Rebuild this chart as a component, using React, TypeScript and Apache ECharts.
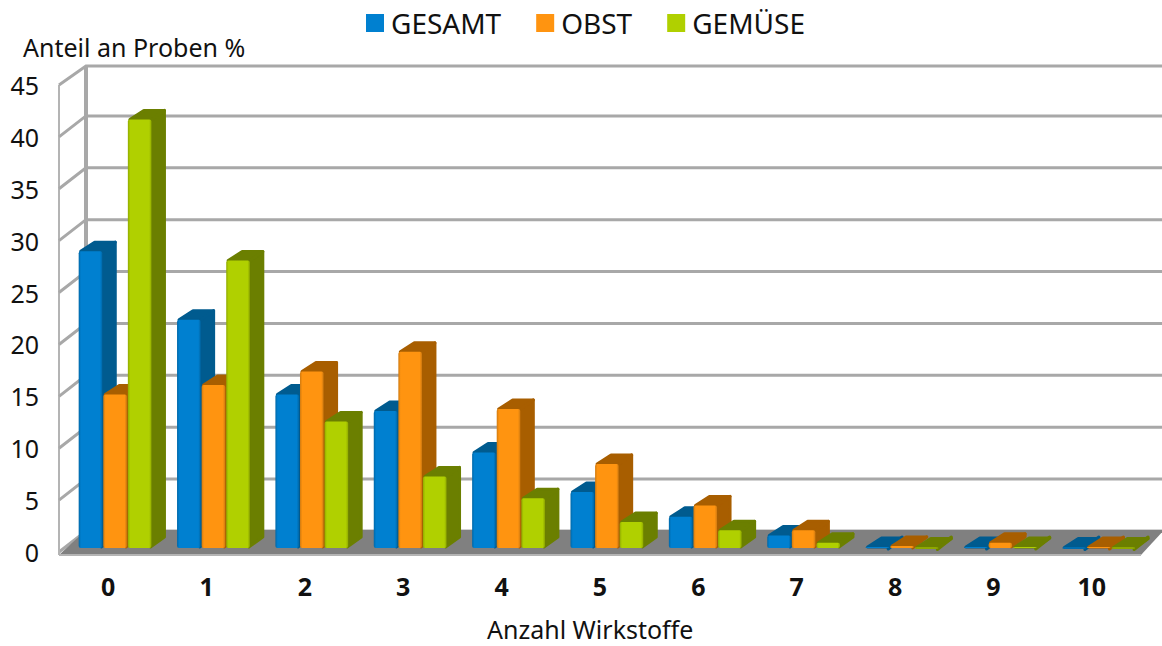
import React, { useEffect, useRef } from "react";
import * as echarts from "echarts";

const categories = ["0", "1", "2", "3", "4", "5", "6", "7", "8", "9", "10"];
const gesamt = [28.6, 22, 14.8, 13.2, 9.2, 5.4, 3, 1.2, 0.1, 0.1, 0.05];
const obst = [14.8, 15.7, 17, 18.9, 13.4, 8.1, 4.1, 1.7, 0.2, 0.5, 0.1];
const gemuese = [41.3, 27.7, 12.2, 6.9, 4.8, 2.5, 1.7, 0.5, 0.05, 0.1, 0.05];
const yTicks = [0, 5, 10, 15, 20, 25, 30, 35, 40, 45];

const GRID = "#a8a8a8";
const DEPTH_X = 27;
const DEPTH_Y = 21;
const DEPTH_Y_TOP = 19;
const BAR_DX = 14;
const BAR_DY = 11;
const BASE_LIFT = 4;

const wallRender = (_p: any, api: any) => {
  const [x0, y] = api.coord([api.value(0), api.value(1)]);
  const band = api.size([1, 0])[0];
  const left = x0 - band / 2;
  const right = 1170;
  const dy = api.value(1) === 45 ? DEPTH_Y_TOP : DEPTH_Y;
  const kids: any[] = [
    {
      type: "polyline",
      shape: { points: [[left, y], [left + DEPTH_X, y - dy], [right, y - dy]] },
      style: { stroke: GRID, lineWidth: 3, fill: null },
    },
  ];
  if (api.value(1) === 0) {
    const top = api.coord([0, 45])[1];
    const floorFrontY = y + 3;
    kids.push(
      {
        type: "polygon",
        shape: {
          points: [
            [left, floorFrontY],
            [left + 11 * band, floorFrontY],
            [1164, y - DEPTH_Y - 1],
            [left + DEPTH_X, y - DEPTH_Y - 1],
          ],
        },
        style: { fill: "#808080" },
      },
      {
        type: "line",
        shape: { x1: left, y1: floorFrontY, x2: left + 11 * band, y2: floorFrontY },
        style: { stroke: "#b4b4b4", lineWidth: 2 },
      },
      {
        type: "line",
        shape: { x1: left, y1: top, x2: left, y2: floorFrontY },
        style: { stroke: "#b4b4b4", lineWidth: 2 },
      },
      {
        type: "line",
        shape: { x1: left + DEPTH_X, y1: top - DEPTH_Y_TOP, x2: left + DEPTH_X, y2: y - DEPTH_Y },
        style: { stroke: GRID, lineWidth: 4 },
      }
    );
  }
  return { type: "group", children: kids };
};

const barRender = (slot: number, front: string, edge: string, dark: string) => (_p: any, api: any) => {
  const idx = api.value(0);
  const [cx, yTop0] = api.coord([idx, api.value(1)]);
  const base = api.coord([idx, 0])[1] - BASE_LIFT;
  const band = api.size([1, 0])[0];
  const w = band * 0.25;
  const x = cx - band * 0.3 + slot * w;
  const yTop = yTop0 - BASE_LIFT;
  const fill = new echarts.graphic.LinearGradient(0, 0, 1, 0, [
    { offset: 0, color: edge },
    { offset: 0.1, color: front },
    { offset: 0.9, color: front },
    { offset: 1, color: edge },
  ]);
  const dw = w - 1;
  return {
    type: "group",
    children: [
      {
        type: "polygon",
        shape: {
          points: [
            [x + dw - 1, yTop + 2],
            [x + dw + BAR_DX - 1, yTop - BAR_DY + 2],
            [x + dw + BAR_DX - 1, base - BAR_DY],
            [x + dw - 1, base - 1],
          ],
        },
        style: { fill: dark, stroke: dark, lineWidth: 3, lineJoin: "round" },
      },
      {
        type: "polygon",
        shape: {
          points: [
            [x + 2, yTop],
            [x + dw, yTop],
            [x + dw + BAR_DX - 1, yTop - BAR_DY + 2],
            [x + BAR_DX + 2, yTop - BAR_DY + 2],
          ],
        },
        style: { fill: dark, stroke: dark, lineWidth: 3, lineJoin: "round" },
      },
      {
        type: "rect",
        shape: { x, y: yTop, width: dw, height: Math.max(base - yTop, 1), r: 2 },
        style: { fill },
      },
    ],
  };
};

const toData = (vals: number[]) => vals.map((v, i) => [i, v]);

export default function App() {
  const ref = useRef<HTMLDivElement>(null);
  useEffect(() => {
    document.body.style.margin = "0";
    const chart = echarts.init(ref.current!, null, { renderer: "svg" });
    const font = "'Noto Sans', sans-serif";
    const titleStyle = { fontFamily: font, fontSize: 25, fontWeight: "normal", color: "#111" };
    chart.setOption({
      animation: false,
      backgroundColor: "#ffffff",
      title: [
        { text: "Anteil an Proben %", left: 23, top: 34, padding: 0, textStyle: titleStyle },
        { text: "Anzahl Wirkstoffe", left: 487, top: 616, padding: 0, textStyle: titleStyle },
      ],
      legend: {
        left: 366,
        top: 9,
        padding: 0,
        itemWidth: 18,
        itemHeight: 18,
        itemGap: 35,
        icon: "rect",
        data: ["GESAMT", "OBST", "GEMÜSE"],
        textStyle: { fontFamily: font, fontSize: 28, color: "#111", padding: [0, 0, 0, 2] },
      },
      grid: { left: 59, right: 21, top: 85, bottom: 94, outerBoundsMode: "none", containLabel: false },
      xAxis: {
        type: "category",
        data: categories,
        axisLine: { show: false },
        axisTick: { show: false },
        axisLabel: { fontFamily: font, fontSize: 25, fontWeight: "bold", color: "#111", margin: 21 },
      },
      yAxis: {
        type: "value",
        min: 0,
        max: 45,
        interval: 5,
        splitLine: { show: false },
        axisLine: { show: false },
        axisTick: { show: false },
        axisLabel: { fontFamily: font, fontSize: 25, color: "#111", margin: 20 },
      },
      series: [
        {
          type: "custom",
          name: "wall",
          renderItem: wallRender,
          data: yTicks.map((t) => [0, t]),
          encode: { x: 0, y: 1 },
          silent: true,
          z: 1,
        },
        {
          type: "custom",
          name: "GESAMT",
          renderItem: barRender(0, "#0080d0", "#0068a8", "#005b8f"),
          data: toData(gesamt),
          encode: { x: 0, y: 1 },
          itemStyle: { color: "#0080d0" },
          z: 2,
        },
        {
          type: "custom",
          name: "OBST",
          renderItem: barRender(1, "#ff9410", "#d07a10", "#a85e00"),
          data: toData(obst),
          encode: { x: 0, y: 1 },
          itemStyle: { color: "#ff9410" },
          z: 3,
        },
        {
          type: "custom",
          name: "GEMÜSE",
          renderItem: barRender(2, "#b0d000", "#90aa00", "#6b7f00"),
          data: toData(gemuese),
          encode: { x: 0, y: 1 },
          itemStyle: { color: "#b0d000" },
          z: 4,
        },
      ],
    });
    return () => chart.dispose();
  }, []);
  return <div ref={ref} style={{ width: 1162, height: 646 }} />;
}
